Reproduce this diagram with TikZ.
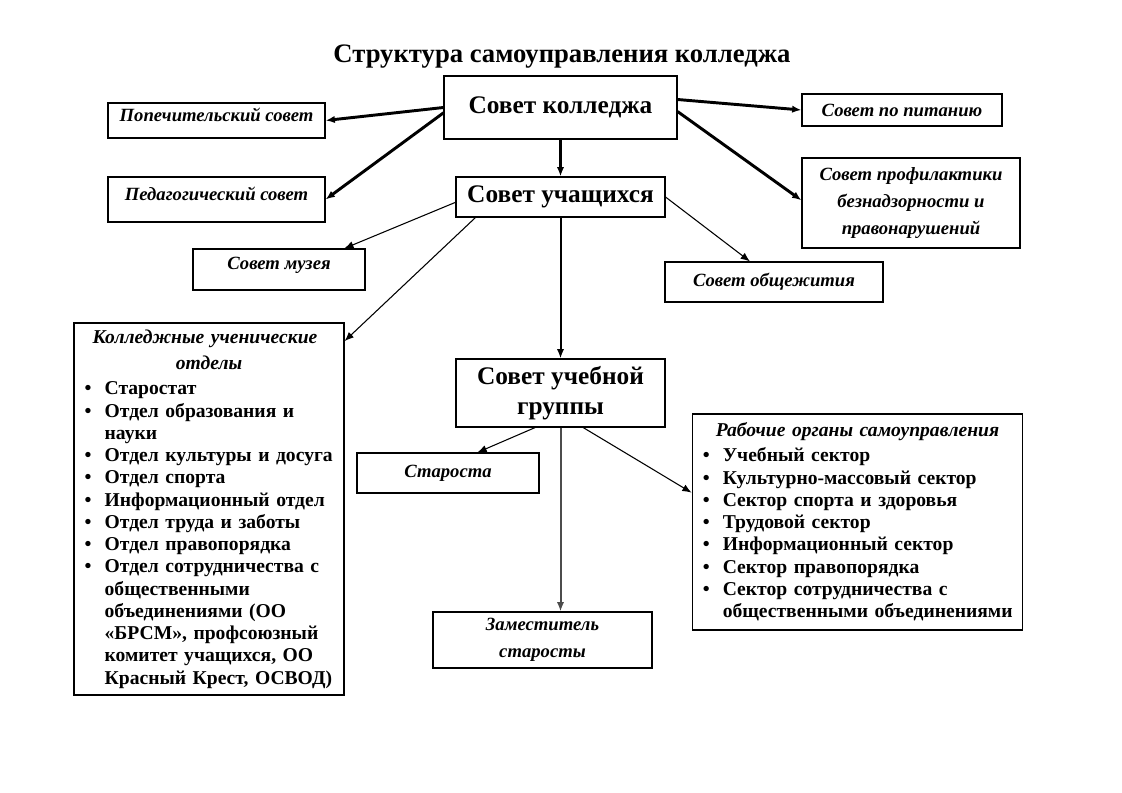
\documentclass[tikz,border=0pt]{standalone}
\usepackage{fontspec}
\setmainfont{Liberation Serif}
\usetikzlibrary{arrows.meta}
\newcommand\itm{\par\noindent\hangindent=15pt\hangafter=1\makebox[15pt][l]{\textbullet}}
\newcommand\lhead[1]{{\centering\itshape\fontsize{14.7}{20}\selectfont #1\par}\vspace{2pt}\raggedright}
\tikzset{
  box/.style={draw,line width=0.8pt,inner sep=2pt,align=center},
  big/.style={box,font=\fontsize{19}{22}\selectfont\bfseries},
  ital/.style={box,font=\fontsize{14}{20}\selectfont\bfseries\itshape},
  hi/.style={text depth=9pt},
  lst/.style={draw,line width=0.8pt,inner xsep=8pt,inner ysep=2pt,font=\fontsize{14.7}{16.7}\selectfont\bfseries},
  arr/.style={-{Latex[length=7pt,width=5.5pt]},line width=0.8pt},
  thk/.style={arr,line width=2.2pt}
}
\begin{document}
\begin{tikzpicture}[x=0.75pt,y=-0.75pt]
\useasboundingbox (0,0) rectangle (1122,793);
\node[font=\fontsize{20}{23}\selectfont\bfseries] (title) at (562,57) {Структура самоуправления колледжа};
% top level
\node[big,minimum width=174.75pt,minimum height=47.25pt] (kol) at (560.5,107.5) {Совет колледжа};
\node[ital,hi,minimum width=162.75pt,minimum height=26.25pt] (pop) at (216.5,120.5) {Попечительский совет};
\node[ital,hi,minimum width=162.75pt,minimum height=33.75pt] (ped) at (216.5,199.5) {Педагогический совет};
\node[ital,minimum width=150pt,minimum height=24pt] (pit) at (902,110) {Совет по питанию};
\node[ital,minimum width=163.5pt,minimum height=67.5pt] (prof) at (911,203) {Совет профилактики\\безнадзорности и\\правонарушений};
% students
\node[big,minimum width=156.75pt,minimum height=30pt] (uch) at (560.5,197) {Совет учащихся};
\node[ital,hi,minimum width=129pt,minimum height=30.75pt] (muz) at (279,269.5) {Совет музея};
\node[ital,minimum width=163.5pt,minimum height=30pt] (obsh) at (774,282) {Совет общежития};
\node[lst,text width=186.5pt,minimum height=279pt] (otd) at (209,509) {%
  \lhead{Колледжные ученические\newline отделы}
  \itm Старостат
  \itm Отдел образования и\newline науки
  \itm Отдел культуры и досуга
  \itm Отдел спорта
  \itm Информационный отдел
  \itm Отдел труда и заботы
  \itm Отдел правопорядка
  \itm Отдел сотрудничества с\newline общественными\newline объединениями (ОО\newline «БРСМ», профсоюзный\newline комитет учащихся, ОО\newline Красный Крест, ОСВОД)\par};
% group
\node[big,minimum width=156.75pt,minimum height=51pt] (grp) at (560.5,393) {Совет учебной\\группы};
\node[ital,minimum width=136.5pt,minimum height=30pt] (star) at (448,473) {Староста};
\node[ital,minimum width=164.25pt,minimum height=42pt] (zam) at (542.5,640) {Заместитель\\старосты};
\node[lst,text width=232pt,minimum height=162pt] (rab) at (857.5,522) {%
  \lhead{Рабочие органы самоуправления}
  \itm Учебный сектор
  \itm Культурно-массовый сектор
  \itm Сектор спорта и здоровья
  \itm Трудовой сектор
  \itm Информационный сектор
  \itm Сектор правопорядка
  \itm Сектор сотрудничества с\newline \mbox{общественными объединениями}\par};
% connectors
\draw[thk] (kol.west) -- (pop.east);
\draw[thk] ([yshift=-4pt]kol.west) -- (ped.east);
\draw[thk] (kol.south) -- (uch.north);
\draw[thk] ([yshift=6pt]kol.east) -- (pit.west);
\draw[thk] ([yshift=-3pt]kol.east) -- ([yshift=2pt]prof.west);
\draw[arr] ([yshift=-4pt]uch.west) -- ([xshift=-16pt]muz.north east);
\draw[arr] (uch.east) -- ([xshift=-18pt]obsh.north);
\draw[arr] ([xshift=15pt]uch.south west) -- ([yshift=-14pt]otd.north east);
\draw[arr,line width=1.5pt] (uch.south) -- (grp.north);
\draw[arr] ([xshift=-19pt]grp.south) -- ([xshift=22pt]star.north);
\draw[arr,line width=1.5pt,black!70] (grp.south) -- (grp.south |- zam.north);
\draw[arr] ([xshift=17pt]grp.south) -- ([yshift=22pt]rab.west);
\end{tikzpicture}
\end{document}
